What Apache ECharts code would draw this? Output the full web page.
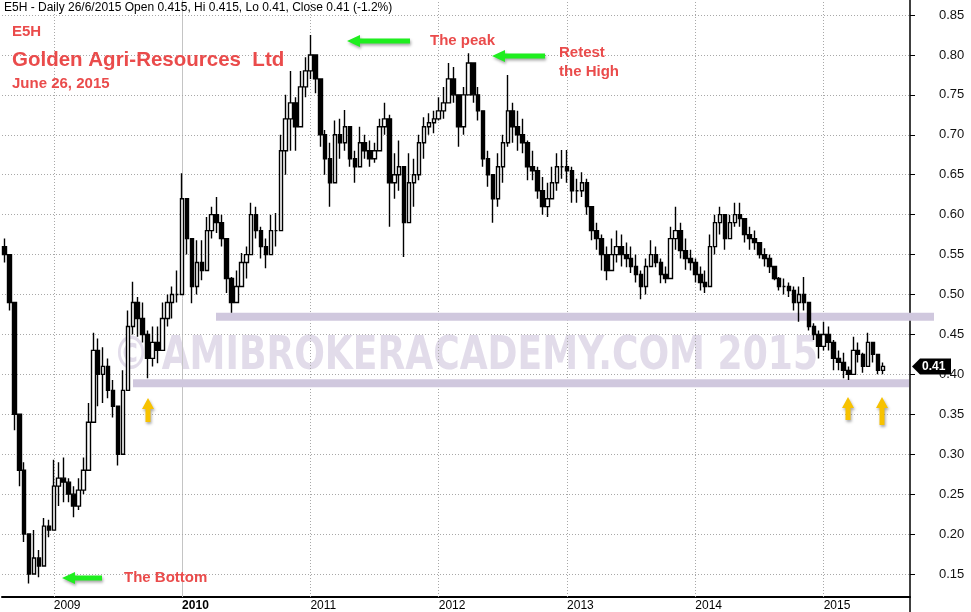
<!DOCTYPE html>
<html><head><meta charset="utf-8">
<script src="https://cdn.jsdelivr.net/npm/echarts@6/dist/echarts.min.js"></script>
<style>html,body{margin:0;padding:0;background:#fff}#c{width:971px;height:612px}</style>
</head><body><div id="c"></div>
<script>
// ---- data (bi-weekly bars) ----
const startDate = '2008-08-18';
const periodDays = 14;
const totalPeriods = 184;
const firstOpen = 0.56;
const closes = [
0.55,0.49,0.35,0.28,0.20,0.15,0.17,0.16,0.21,0.205,
0.26,0.27,0.265,0.25,0.235,0.255,0.28,0.34,0.43,0.40,
0.41,0.38,0.36,0.30,0.38,0.46,0.49,0.47,0.45,0.42,
0.44,0.43,0.47,0.49,0.50,0.50,0.62,0.57,0.51,0.54,
0.53,0.58,0.60,0.59,0.57,0.52,0.49,0.51,0.54,0.55,
0.60,0.58,0.56,0.55,0.58,0.58,0.68,0.72,0.74,0.71,
0.76,0.78,0.80,0.77,0.70,0.67,0.64,0.70,0.69,0.71,
0.67,0.66,0.69,0.68,0.67,0.68,0.71,0.72,0.64,0.65,
0.66,0.59,0.64,0.65,0.69,0.71,0.715,0.72,0.73,0.74,
0.77,0.75,0.71,0.75,0.79,0.75,0.73,0.67,0.65,0.62,
0.66,0.69,0.73,0.71,0.70,0.69,0.66,0.655,0.63,0.61,
0.62,0.64,0.66,0.66,0.655,0.63,0.63,0.64,0.61,0.58,
0.57,0.55,0.53,0.55,0.56,0.55,0.545,0.535,0.525,0.51,
0.535,0.55,0.54,0.525,0.52,0.57,0.58,0.555,0.545,0.54,
0.525,0.515,0.51,0.56,0.59,0.60,0.57,0.59,0.60,0.595,
0.575,0.57,0.565,0.55,0.545,0.535,0.52,0.51,0.51,0.505,
0.49,0.50,0.49,0.46,0.45,0.435,0.45,0.44,0.42,0.415,
0.405,0.40,0.43,0.425,0.41,0.44,0.425,0.405,0.41
];
const highs = [
0.57,0.55,0.48,0.35,0.29,0.185,0.205,0.18,0.22,0.218,
0.293,0.29,0.296,0.27,0.26,0.27,0.296,0.364,0.452,0.445,
0.434,0.42,0.393,0.36,0.405,0.48,0.516,0.497,0.49,0.455,
0.46,0.46,0.49,0.50,0.51,0.53,0.652,0.62,0.56,0.568,
0.568,0.597,0.61,0.622,0.60,0.564,0.522,0.53,0.552,0.56,
0.615,0.61,0.585,0.57,0.60,0.602,0.70,0.75,0.78,0.747,
0.78,0.797,0.825,0.80,0.752,0.706,0.69,0.718,0.72,0.731,
0.70,0.68,0.71,0.70,0.693,0.69,0.72,0.74,0.725,0.677,
0.693,0.66,0.677,0.67,0.70,0.722,0.727,0.73,0.747,0.76,
0.79,0.785,0.745,0.76,0.802,0.79,0.76,0.725,0.68,0.65,
0.677,0.70,0.775,0.74,0.73,0.72,0.693,0.68,0.66,0.647,
0.64,0.66,0.677,0.681,0.681,0.66,0.645,0.653,0.645,0.61,
0.59,0.575,0.56,0.57,0.58,0.575,0.565,0.56,0.55,0.53,
0.545,0.568,0.56,0.545,0.535,0.585,0.61,0.59,0.57,0.556,
0.545,0.535,0.53,0.575,0.60,0.61,0.595,0.60,0.615,0.615,
0.59,0.585,0.58,0.565,0.558,0.55,0.535,0.522,0.52,0.515,
0.51,0.51,0.522,0.475,0.464,0.455,0.466,0.46,0.443,0.43,
0.427,0.41,0.447,0.44,0.427,0.452,0.44,0.42,0.415
];
const lows = [
0.54,0.48,0.33,0.26,0.19,0.138,0.15,0.146,0.176,0.196,
0.22,0.235,0.24,0.24,0.221,0.23,0.25,0.30,0.37,0.36,
0.364,0.37,0.346,0.286,0.30,0.40,0.45,0.447,0.44,0.395,
0.41,0.414,0.447,0.46,0.47,0.49,0.50,0.55,0.489,0.50,
0.518,0.543,0.57,0.577,0.56,0.502,0.477,0.49,0.51,0.52,
0.556,0.57,0.545,0.533,0.55,0.56,0.60,0.65,0.68,0.68,
0.72,0.747,0.77,0.752,0.685,0.65,0.61,0.652,0.67,0.68,
0.66,0.64,0.66,0.67,0.66,0.665,0.68,0.70,0.585,0.62,
0.63,0.547,0.593,0.61,0.643,0.67,0.70,0.702,0.718,0.72,
0.743,0.74,0.685,0.70,0.76,0.74,0.718,0.66,0.635,0.59,
0.61,0.64,0.685,0.69,0.68,0.677,0.643,0.643,0.62,0.60,
0.597,0.62,0.63,0.645,0.64,0.615,0.615,0.622,0.60,0.568,
0.556,0.53,0.518,0.53,0.54,0.535,0.534,0.527,0.515,0.494,
0.50,0.534,0.534,0.514,0.514,0.53,0.556,0.545,0.531,0.53,
0.515,0.505,0.502,0.52,0.55,0.575,0.556,0.57,0.585,0.585,
0.565,0.556,0.556,0.545,0.535,0.527,0.518,0.505,0.50,0.497,
0.48,0.466,0.48,0.455,0.443,0.42,0.43,0.43,0.405,0.405,
0.395,0.393,0.40,0.415,0.402,0.41,0.415,0.40,0.40
];
const yTicks = [0.15,0.20,0.25,0.30,0.35,0.40,0.45,0.50,0.55,0.60,0.65,0.70,0.75,0.80,0.85];
const tickYears = [2009,2010,2011,2012,2013,2014,2015];
const boldYear = 2010;
const lastClose = 0.41;
const resistanceLevel = 0.472;
const supportLevel = 0.389;
const headerText = 'E5H - Daily 26/6/2015 Open 0.415, Hi 0.415, Lo 0.41, Close 0.41 (-1.2%)';

// ---- build ----
const DAY = 86400000;
const t0 = Date.parse(startDate + 'T00:00:00Z');
const cats = [];
for (let i = 0; i < totalPeriods; i++) cats.push(new Date(t0 + i * periodDays * DAY).toISOString().slice(0, 10));
const yearIdx = {};
tickYears.forEach(y => {
  const j1 = Date.UTC(y, 0, 1); let best = 0, bd = Infinity;
  cats.forEach((c, i) => { const d = Math.abs(Date.parse(c + 'T00:00:00Z') - j1); if (d < bd) { bd = d; best = i; } });
  yearIdx[best] = y;
});
const isYear = i => yearIdx[i] !== undefined;
const candles = closes.map((c, i) => {
  const o = i === 0 ? firstOpen : closes[i - 1];
  return [o, c, Math.min(lows[i], o, c), Math.max(highs[i], o, c)];
});

const chart = echarts.init(document.getElementById('c'), null, { renderer: 'canvas' });
const FONT = 'Liberation Sans, Arial, sans-serif';
const RED = '#ea4b4b';

const vLines = Object.keys(yearIdx).map(k => ({
  xAxis: cats[+k],
  lineStyle: yearIdx[k] === boldYear ? { type: 'solid', color: '#c4c4c4', width: 1 } : { type: [1, 2], color: '#a8a8a8', width: 1 }
}));
const hLines = yTicks.map(v => ({ yAxis: v, lineStyle: { type: [1, 2], color: '#a8a8a8', width: 1 } }));

chart.setOption({
  animation: false,
  backgroundColor: '#fff',
  grid: { left: 2, right: 61, top: 0, bottom: 15, containLabel: false },
  xAxis: {
    type: 'category', data: cats, boundaryGap: true,
    axisLine: { lineStyle: { color: '#000', width: 2 } },
    axisTick: { alignWithLabel: true, interval: i => isYear(i), length: 7, lineStyle: { color: '#000' } },
    axisLabel: {
      interval: i => isYear(i), align: 'left', margin: 3, fontSize: 12, fontFamily: FONT, color: '#000',
      formatter: (v, i) => { const y = yearIdx[i]; return y === boldYear ? '{b|' + y + '}' : String(y); },
      rich: { b: { fontWeight: 'bold', fontSize: 12, fontFamily: FONT, color: '#000' } }
    },
    splitLine: { show: false }
  },
  yAxis: {
    type: 'value', position: 'right', min: 0.1212, max: 0.8688, scale: true,
    axisLine: { show: true, lineStyle: { color: '#000', width: 1.5 } },
    axisTick: { show: true, length: 5, customValues: yTicks, lineStyle: { color: '#000' } },
    axisLabel: { customValues: yTicks, formatter: v => v.toFixed(2), margin: 29, fontSize: 13, fontFamily: FONT, color: '#111' },
    splitLine: { show: false }
  },
  series: [
    {
      type: 'candlestick', data: candles, barWidth: 4, z: 3,
      itemStyle: { color: '#ffffff', color0: '#000000', borderColor: '#000000', borderColor0: '#000000', borderWidth: 1.4 },
      markLine: { silent: true, symbol: 'none', label: { show: false }, z: 1, animation: false,
        data: vLines.concat(hLines) }
    }
  ]
});

// ---- annotations ----
function leftArrow(x0, x1, y) {
  return { type: 'polygon', z: 20, shape: { points: [[x0, y], [x0 + 13, y - 6], [x0 + 13, y - 2.5], [x1, y - 2.5], [x1, y + 2.5], [x0 + 13, y + 2.5], [x0 + 13, y + 6]] },
    style: { fill: '#1fee1f', shadowBlur: 3, shadowColor: 'rgba(0,0,0,0.35)', shadowOffsetX: 1, shadowOffsetY: 2 } };
}
function upArrow(x, y0, y1) {
  return { type: 'polygon', z: 20, shape: { points: [[x, y0], [x + 6, y0 + 11], [x + 2.5, y0 + 11], [x + 2.5, y1], [x - 2.5, y1], [x - 2.5, y0 + 11], [x - 6, y0 + 11]] },
    style: { fill: '#f7c200', shadowBlur: 3, shadowColor: 'rgba(0,0,0,0.35)', shadowOffsetX: 1, shadowOffsetY: 2 } };
}
function txt(x, y, s, size, bold, color, z) {
  return { type: 'text', x: x, y: y, z: z || 20, style: { text: s, fill: color, font: (bold ? 'bold ' : '') + size + 'px ' + FONT, textVerticalAlign: 'middle' } };
}
const yRes = chart.convertToPixel({ yAxisIndex: 0 }, resistanceLevel);
const ySup = chart.convertToPixel({ yAxisIndex: 0 }, supportLevel);
const yLast = chart.convertToPixel({ yAxisIndex: 0 }, lastClose);

// watermark scaled to span its width
const wmText = '\u00A9 AMIBROKERACADEMY.COM 2015';
const wmFont = 'bold 47px "DejaVu Sans", sans-serif';
const cv = document.createElement('canvas').getContext('2d'); cv.font = wmFont;
const wmW = cv.measureText(wmText).width;
const wmScale = 705 / wmW;

chart.setOption({
  graphic: { elements: [
    { type: 'text', x: 113, y: 357, z: 0, scaleX: wmScale, style: { text: wmText, font: wmFont, fill: '#e2dcea', textVerticalAlign: 'middle' } },
    { type: 'rect', z: 1, shape: { x: 216, y: yRes - 4, width: 718, height: 8 }, style: { fill: '#d0c8de' } },
    { type: 'rect', z: 1, shape: { x: 133, y: ySup - 4, width: 776, height: 8 }, style: { fill: '#d0c8de' } },
    txt(4, 8, headerText, 12, false, '#000'),
    txt(12, 32, 'E5H', 15, true, RED),
    txt(12, 60, 'Golden Agri-Resources  Ltd', 20.5, true, RED),
    txt(12, 84, 'June 26, 2015', 15, true, RED),
    txt(430, 41, 'The peak', 15, true, RED),
    txt(559, 53, 'Retest', 15, true, RED),
    txt(559, 72, 'the High', 15, true, RED),
    txt(124, 578, 'The Bottom', 15, true, RED),
    leftArrow(347, 410, 41),
    leftArrow(492, 545, 56),
    leftArrow(62, 102, 578),
    upArrow(148, 398, 422),
    upArrow(848, 397, 420),
    upArrow(882, 397, 425),
    { type: 'polygon', z: 30, shape: { points: [[912, yLast], [920, yLast - 8], [951, yLast - 8], [951, yLast + 8], [920, yLast + 8]] }, style: { fill: '#000' } },
    { type: 'text', x: 922, y: yLast, z: 31, style: { text: lastClose.toFixed(2), fill: '#fff', font: 'bold 12px ' + FONT, textVerticalAlign: 'middle' } },
    { type: 'line', z: 30, shape: { x1: 910, y1: 597, x2: 910, y2: 612 }, style: { stroke: '#000', lineWidth: 1.5 } }
  ] }
});
</script></body></html>
